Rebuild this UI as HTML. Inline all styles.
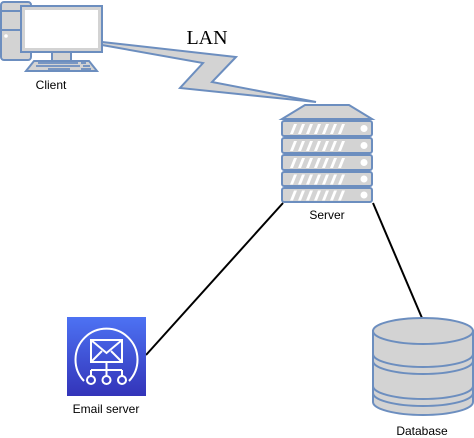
<!DOCTYPE html>
<html><head><meta charset="utf-8"><style>body{margin:0;background:#fff}svg{display:block}</style></head><body>
<svg width="474" height="438" viewBox="0 0 474 438" xmlns="http://www.w3.org/2000/svg">
<g stroke="#6c8ebf" stroke-width="2" fill="#d3d3d3">
<!-- client -->
<rect x="1" y="2" width="30" height="58" rx="3"/>
<line x1="1" y1="11" x2="31" y2="11"/><line x1="1" y1="30" x2="31" y2="30"/>
<rect x="52" y="50" width="19" height="11"/>
<rect x="21" y="6" width="81" height="46"/>
<rect x="25" y="10" width="73" height="38" fill="#fff" stroke="none"/>
<path d="M34 61 L89 61 L97 71 L26 71 Z"/>
</g>
<circle cx="6" cy="36" r="1.8" fill="#fff"/>
<g stroke="#6c8ebf" stroke-width="1.8"><line x1="38" y1="63" x2="78" y2="63"/><line x1="81" y1="63" x2="86" y2="63"/><line x1="36" y1="66" x2="80" y2="66"/><line x1="83" y1="66" x2="90" y2="66"/><line x1="48" y1="69" x2="70" y2="69"/><line x1="81" y1="69" x2="91" y2="69"/></g>
<text x="51" y="89" font-family="Liberation Sans, sans-serif" font-size="12" text-anchor="middle">Client</text>
<!-- LAN -->
<polygon points="102,42 236,57 212,82 316,102 180,88 203,63 102,45" fill="#d3d3d3" stroke="#6c8ebf" stroke-width="2"/>
<text x="207" y="44" font-family="Liberation Serif, serif" font-size="20" text-anchor="middle">LAN</text>
<!-- server -->
<g stroke="#6c8ebf" stroke-width="2" fill="#d3d3d3">
<path d="M305 105 L349 105 L372 119 L282 119 Z"/>
<rect x="282" y="121" width="90" height="15" rx="2"/>
<rect x="282" y="138" width="90" height="15" rx="2"/>
<rect x="282" y="155" width="90" height="15" rx="2"/>
<rect x="282" y="172" width="90" height="14" rx="2"/>
<rect x="282" y="188" width="90" height="14" rx="2"/>
</g>
<g fill="#fff">
<g id="r"><path d="M290 134l4-10h3l-4 10z M298 134l4-10h3l-4 10z M306 134l4-10h3l-4 10z M314 134l4-10h3l-4 10z M322 134l4-10h3l-4 10z M330 134l4-10h3l-4 10z M338 134l4-10h3l-4 10z"/><circle cx="364" cy="128.5" r="3.5"/></g>
<use href="#r" y="17"/><use href="#r" y="34"/><use href="#r" y="50.5"/><use href="#r" y="66.5"/>
</g>
<text x="327" y="219" font-family="Liberation Sans, sans-serif" font-size="12" text-anchor="middle">Server</text>
<line x1="283" y1="203" x2="146" y2="355" stroke="#000" stroke-width="2"/>
<line x1="373" y1="203" x2="422" y2="318" stroke="#000" stroke-width="2"/>
<!-- email -->
<defs><linearGradient id="g" x1="0" y1="1" x2="0" y2="0"><stop offset="0" stop-color="#3334b9"/><stop offset="1" stop-color="#4d72f3"/></linearGradient></defs>
<rect x="67" y="317" width="79" height="79" fill="url(#g)"/>
<g stroke="#fff" stroke-width="2" fill="none">
<path d="M84 381 A31 31 0 1 1 129 381"/>
<rect x="91" y="340" width="31" height="22"/>
<path d="M91 340 L106.5 353 L122 340 M91 362 L102 351 M122 362 L111 351"/>
<path d="M106.5 362 V376 M91 370 H122 M91 370 V376 M122 370 V376"/>
<circle cx="91" cy="380" r="4"/><circle cx="106.5" cy="380" r="4"/><circle cx="122" cy="380" r="4"/>
</g>
<text x="106" y="413" font-family="Liberation Sans, sans-serif" font-size="12" text-anchor="middle">Email server</text>
<!-- database -->
<g stroke="#6c8ebf" stroke-width="2" fill="#d3d3d3">
<path d="M373 331 V402 A50 13 0 0 0 473 402 V331 Z"/>
<ellipse cx="423" cy="331" rx="50" ry="13"/>
<path d="M373 354 A50 13 0 0 0 473 354" fill="none"/>
<path d="M373 361 A50 13 0 0 0 473 361" fill="none"/>
<path d="M373 386 A50 13 0 0 0 473 386" fill="none"/>
<path d="M373 393 A50 13 0 0 0 473 393" fill="none"/>
</g>
<text x="422" y="435" font-family="Liberation Sans, sans-serif" font-size="12" text-anchor="middle">Database</text>
</svg>
</body></html>
